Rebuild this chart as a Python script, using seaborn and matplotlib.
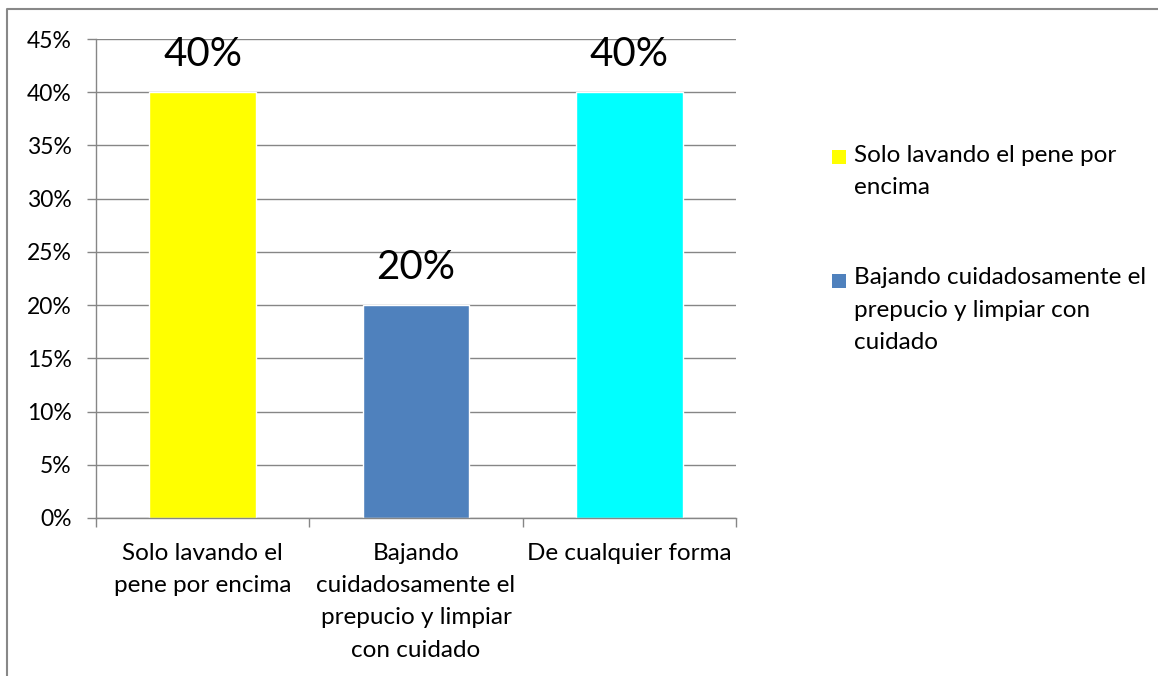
import matplotlib
matplotlib.use("Agg")
import matplotlib.pyplot as plt
import seaborn as sns
from matplotlib.patches import Patch, Rectangle
from matplotlib.lines import Line2D

# datos
categorias = ["Solo lavando el\npene por encima",
              "Bajando\ncuidadosamente el\nprepucio y limpiar\ncon cuidado",
              "De cualquier forma"]
valores = [0.40, 0.20, 0.40]
colores = ["#FFFF00", "#4F81BD", "#00FFFF"]
leyenda = ["Solo lavando el pene por\nencima",
           "Bajando cuidadosamente el\nprepucio y limpiar con\ncuidado"]
yticks = [0, 0.05, 0.10, 0.15, 0.20, 0.25, 0.30, 0.35, 0.40, 0.45]

sns.set_style("white")
plt.rcParams["font.family"] = ["Lato", "DejaVu Sans"]
plt.rcParams["text.color"] = "black"
plt.rcParams["xtick.color"] = "black"
plt.rcParams["ytick.color"] = "black"

W, H = 1158, 676
fig = plt.figure(figsize=(W / 100, H / 100), dpi=100)
ax = fig.add_axes([96 / W, 1 - 518 / H, 640 / W, 479 / H])

sns.barplot(x=categorias, y=valores, hue=categorias, palette=colores,
            width=0.5, legend=False, ax=ax, saturation=1)

gris = "#868686"
ax.set_ylim(0, 0.45)
ax.set_xlim(-0.5, 2.5)
ax.set_yticks(yticks)
ax.set_yticklabels([f"{int(round(v * 100))}%" for v in yticks], fontsize=16.5)
ax.yaxis.grid(True, color=gris, linewidth=1)
ax.set_axisbelow(True)
ax.tick_params(axis="y", left=True, length=6.5, color=gris, width=1, pad=11)
ax.tick_params(axis="x", which="major", length=0, labelsize=17.5, pad=18)
for lbl in ax.get_xticklabels():
    lbl.set_linespacing(1.66)
ax.set_xticks([-0.5, 0.5, 1.5, 2.5], minor=True)
ax.tick_params(axis="x", which="minor", bottom=True, length=6.5, color=gris, width=1)
for s in ["top", "right"]:
    ax.spines[s].set_visible(False)
for s in ["left", "bottom"]:
    ax.spines[s].set_color(gris)
    ax.spines[s].set_linewidth(1)

# etiquetas de datos
for cont in ax.containers:
    ax.bar_label(cont, labels=[f"{int(round(v * 100))}%" for v in cont.datavalues],
                 padding=14, fontsize=29)

# leyenda (solo dos entradas, como en el original)
vacios = [Patch(facecolor="none", edgecolor="none") for _ in leyenda]
leg = fig.legend(vacios, leyenda, loc="upper left", bbox_to_anchor=(801 / W, 1 - 123 / H),
                 frameon=False, fontsize=17.5, handlelength=0.8, handletextpad=0.5,
                 labelspacing=2.85)
for t in leg.get_texts():
    t.set_linespacing(1.66)

fig.canvas.draw()
inv = fig.transFigure.inverted()
for t, c in zip(leg.get_texts(), colores):
    bb = t.get_window_extent()
    n = t.get_text().count("\n") + 1
    lh = bb.height / n
    cy = bb.y1 - lh / 2 + 1
    x0, y0 = inv.transform((bb.x0 - 22, cy - 7))
    x1, y1 = inv.transform((bb.x0 - 8, cy + 7))
    fig.add_artist(Rectangle((x0, y0), x1 - x0, y1 - y0, facecolor=c,
                             edgecolor="none", transform=fig.transFigure))

# borde del grafico
fig.add_artist(Line2D([7 / W, 7 / W, 1], [0, 1 - 9 / H, 1 - 9 / H],
                      color="#888888", linewidth=1.5, transform=fig.transFigure))

fig.savefig("out.png", dpi=100)
